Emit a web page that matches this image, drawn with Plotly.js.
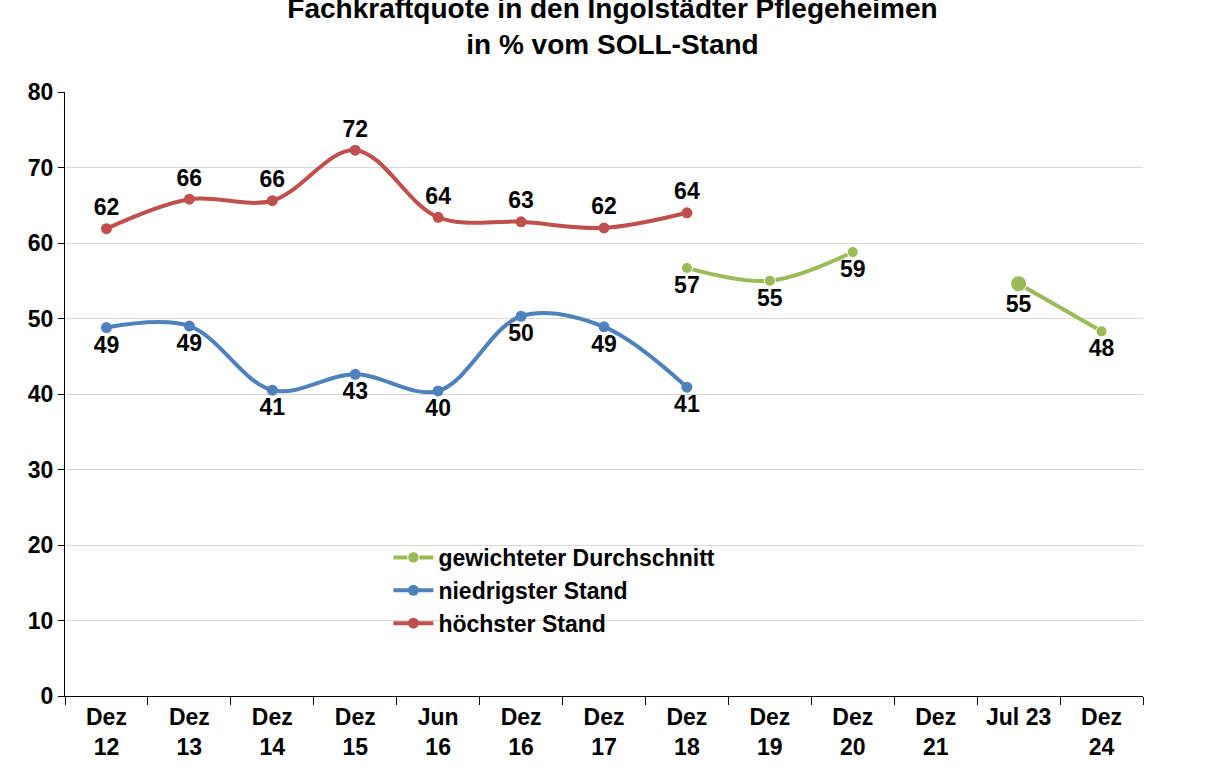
<!DOCTYPE html>
<html>
<head>
<meta charset="utf-8">
<script src="https://cdn.plot.ly/plotly-3.0.1.min.js"></script>
<style>body{margin:0;background:#fff}#chart{width:1225px;height:768px}</style>
</head>
<body>
<div id="chart"></div>
<script>
const categories = ["Dez<br>12","Dez<br>13","Dez<br>14","Dez<br>15","Jun<br>16","Dez<br>16","Dez<br>17","Dez<br>18","Dez<br>19","Dez<br>20","Dez<br>21","Jul 23<br> ","Dez<br>24"];
const hoechst = [61.9, 65.8, 65.6, 72.3, 63.4, 62.8, 62.0, 64.0, null, null, null, null, null];
const niedrigst = [48.8, 49.0, 40.5, 42.6, 40.4, 50.3, 48.9, 40.9, null, null, null, null, null];
const durchschnitt = [null, null, null, null, null, null, null, 56.7, 55.0, 58.8, null, 54.6, 48.3];
const labH = ["62","66","66","72","64","63","62","64"];
const labN = ["49","49","41","43","40","50","49","41"];
const labD = ["","","","","","","","57","55","59","","55","48"];
const dSizes = [11,11,11,11,11,11,11,11,11,11,11,16,11];

const font = {family: "Liberation Sans, Arial, sans-serif", color: "#000", size: 20};
const tf = {family: font.family, size: 23, color: "#000", weight: "bold"};
const common = {type: "scatter", mode: "lines+markers+text", x: categories,
  textfont: tf, cliponaxis: false, connectgaps: false};

const traces = [
  Object.assign({}, common, {name: "gewichteter Durchschnitt", y: durchschnitt, text: labD,
    textposition: "bottom center", line: {shape: "spline", width: 4, color: "#9bbb59"},
    marker: {color: "#9bbb59", size: dSizes, opacity: 1}}),
  Object.assign({}, common, {name: "niedrigster Stand", y: niedrigst, text: labN,
    textposition: "bottom center", line: {shape: "spline", width: 4, color: "#4f81bd"},
    marker: {color: "#4f81bd", size: 11, opacity: 1}}),
  Object.assign({}, common, {name: "höchster Stand", y: hoechst, text: labH,
    textposition: "top center", line: {shape: "spline", width: 4, color: "#c0504d"},
    marker: {color: "#c0504d", size: 11, opacity: 1}})
];

const layout = {
  width: 1225, height: 768,
  margin: {l: 65, r: 82, t: 92, b: 72},
  paper_bgcolor: "#fff", plot_bgcolor: "#fff",
  font: font,
  title: {text: "<b>Fachkraftquote in den Ingolstädter Pflegeheimen<br>in % vom SOLL-Stand</b>",
    x: 0.5, xanchor: "center", y: 1, yanchor: "top", pad: {t: 18},
    font: {family: font.family, size: 28, color: "#000"}},
  showlegend: true,
  legend: {x: 0.3, y: 0.265, xanchor: "left", yanchor: "top", traceorder: "normal", tracegroupgap: 0,
    font: {family: font.family, size: 23, color: "#000", weight: "bold"}, bgcolor: "rgba(0,0,0,0)", itemwidth: 40},
  xaxis: {type: "category", tickson: "boundaries", ticks: "outside", ticklen: 8, tickcolor: "#000",
    showline: true, linecolor: "#000", linewidth: 1, showgrid: false,
    tickfont: tf, range: [-0.5, 12.5]},
  yaxis: {range: [0, 80], dtick: 10, ticks: "outside", ticklen: 6, tickcolor: "#000",
    showline: true, linecolor: "#000", gridcolor: "#d9d9d9", zeroline: false,
    tickfont: tf}
};

Plotly.newPlot("chart", traces, layout, {displayModeBar: false});
</script>
</body>
</html>
